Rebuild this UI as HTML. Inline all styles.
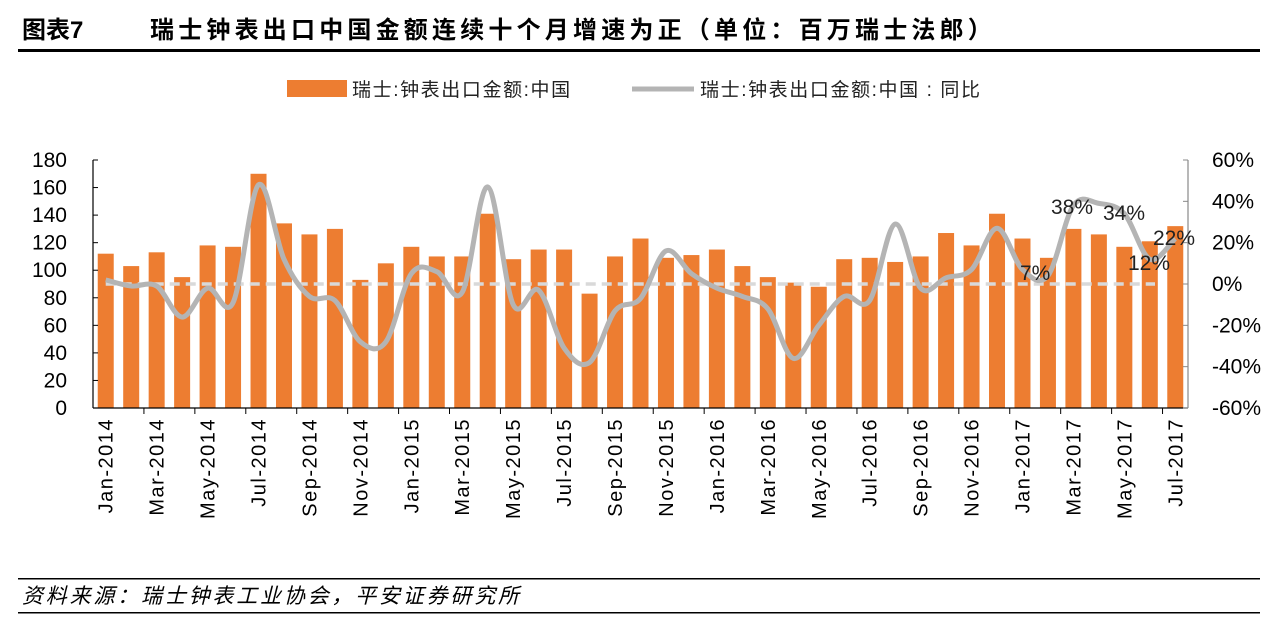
<!DOCTYPE html>
<html><head><meta charset="utf-8"><style>
body{margin:0;background:#fff;width:1278px;height:623px;overflow:hidden;font-family:"Liberation Sans","Noto Sans CJK SC",sans-serif}
</style></head><body>
<svg id="s" width="1278" height="623" xmlns="http://www.w3.org/2000/svg" font-family="Liberation Sans, Noto Sans CJK SC, sans-serif">
<text x="22" y="38" font-size="24" font-weight="bold" fill="#000">图表7</text>
<text x="150" y="38" font-size="24" font-weight="bold" fill="#000" letter-spacing="4.2">瑞士钟表出口中国金额连续十个月增速为正（单位：百万瑞士法郎）</text>
<rect x="18" y="49" width="1242" height="3" fill="#000"/>
<rect x="287" y="80" width="60" height="17" fill="#ed7d31"/>
<text x="352" y="96" font-size="19" fill="#222" letter-spacing="1.6">瑞士:钟表出口金额:中国</text>
<line x1="632" y1="89" x2="694" y2="89" stroke="#b4b4b4" stroke-width="5"/>
<text x="700" y="96" font-size="19" fill="#222" letter-spacing="1.6">瑞士:钟表出口金额:中国 : 同比</text>
<g id="g"></g>
<rect x="18" y="578" width="1242" height="1.5" fill="#000"/>
<text x="22" y="603" font-size="21" font-style="italic" fill="#000" letter-spacing="2.8">资料来源：瑞士钟表工业协会，平安证券研究所</text>
<rect x="18" y="612" width="1242" height="1.5" fill="#000"/>
</svg>
<script>
var bars=[112,103,113,95,118,117,170,134,126,130,93,105,117,110,110,141,108,115,115,83,110,123,109,111,115,103,95,91,88,108,109,106,110,127,118,141,123,109,130,126,117,121,132];
var pct=[2,-1,-1,-16,-2,-9,48,12,-6,-8,-28,-28,5,6,-4,47,-10,-3,-31,-38,-13,-7,16,5,-2,-6,-12,-36,-20,-6,-8,29,-2,3,7,27,7,4,38,39,34,12,22];
var mon=["Jan","Mar","May","Jul","Sep","Nov"];
var L=93,R=1188,T=160,B=408,n=43,sl=(R-L)/n,h="";
function cx(i){return L+sl*(i+0.5)}
function yl(v){return B-v/180*(B-T)}
function yr(v){return 284-v/60*124}
for(var i=0;i<n;i++){var y=yl(bars[i]);h+='<rect x="'+(cx(i)-8)+'" y="'+y+'" width="16" height="'+(B-y)+'" fill="#ed7d31"/>';}
h+='<line x1="'+cx(0)+'" y1="284" x2="1155" y2="284" stroke="#d9d9d9" stroke-width="3.5" stroke-dasharray="10,6"/>';
var p=[];for(i=0;i<n;i++)p.push([cx(i),yr(pct[i])]);
var d="M"+p[0][0]+","+p[0][1];
for(i=0;i<n-1;i++){var a=p[Math.max(0,i-1)],b=p[i],c=p[i+1],e=p[Math.min(n-1,i+2)];
d+=" C"+(b[0]+(c[0]-a[0])/6)+","+(b[1]+(c[1]-a[1])/6)+" "+(c[0]-(e[0]-b[0])/6)+","+(c[1]-(e[1]-b[1])/6)+" "+c[0]+","+c[1];}
h+='<path d="'+d+'" fill="none" stroke="#b4b4b4" stroke-width="5" stroke-linejoin="round"/>';
h+='<line x1="'+L+'" y1="'+T+'" x2="'+L+'" y2="'+B+'" stroke="#000" stroke-width="1.2"/>';
h+='<line x1="'+L+'" y1="'+B+'" x2="'+R+'" y2="'+B+'" stroke="#000" stroke-width="1.2"/>';
h+='<line x1="'+R+'" y1="'+T+'" x2="'+R+'" y2="'+B+'" stroke="#888" stroke-width="1.2"/>';
for(var v=0;v<=180;v+=20){var y=yl(v);h+='<line x1="'+(L)+'" y1="'+y+'" x2="'+(L+5)+'" y2="'+y+'" stroke="#000"/><text x="'+(L-26)+'" y="'+(y+7)+'" font-size="21" text-anchor="end" fill="#000">'+v+'</text>';}
for(v=-60;v<=60;v+=20){var y=yr(v);h+='<line x1="'+(R-5)+'" y1="'+y+'" x2="'+R+'" y2="'+y+'" stroke="#888"/><text x="'+(R+24)+'" y="'+(y+7)+'" font-size="21" fill="#000">'+v+'%</text>';}
for(i=2;i<n;i+=2){var x=L+sl*i;h+='<line x1="'+x+'" y1="'+B+'" x2="'+x+'" y2="'+(B+6)+'" stroke="#000"/>';}
for(i=0;i<n;i+=2){var lab=mon[(i%12)/2]+"-"+(2014+Math.floor(i/12));var x=cx(i)+7;
h+='<text transform="translate('+x+',418) rotate(-90)" font-size="20" letter-spacing="1.5" text-anchor="end" fill="#000">'+lab+'</text>';}
var labs=[[37,"7%",1020,280],[38,"38%",1051,214],[40,"34%",1103,220],[41,"12%",1128,270],[42,"22%",1153,245]];
labs.forEach(function(l){h+='<text x="'+l[2]+'" y="'+l[3]+'" font-size="21" fill="#222">'+l[1]+'</text>';});
document.getElementById("g").innerHTML=h;
</script>
</body></html>
